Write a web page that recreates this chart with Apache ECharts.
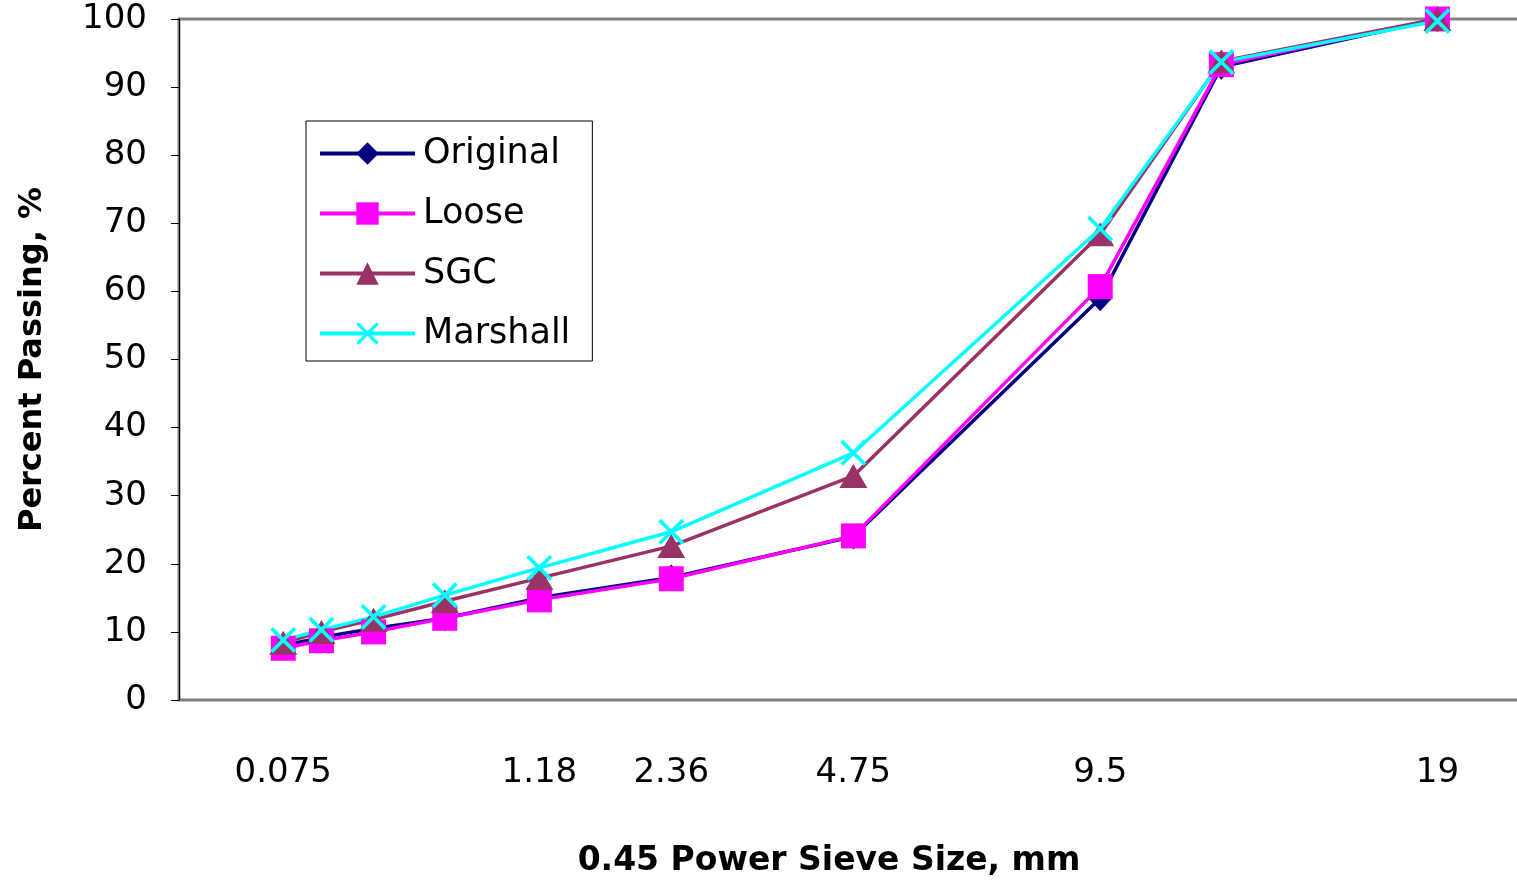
<!DOCTYPE html>
<html>
<head>
<meta charset="utf-8">
<script src="https://cdn.jsdelivr.net/npm/echarts@6/dist/echarts.min.js"></script>
<style>
html,body{margin:0;padding:0;background:#fff;}
#chart{width:1517px;height:880px;}
</style>
</head>
<body>
<div id="chart"></div>
<script>
// Sieve sizes (mm) and percent passing
var sieveSizes = [0.075, 0.15, 0.3, 0.6, 1.18, 2.36, 4.75, 9.5, 12.5, 19];
var labelSizes = [0.075, 1.18, 2.36, 4.75, 9.5, 19];
var original = [8.0, 9.2, 10.5, 12.0, 15.0, 18.0, 24.0, 59.0, 93.0, 100];
var loose    = [7.6, 8.7, 10.0, 12.0, 14.7, 17.8, 24.1, 60.7, 93.3, 100];
var sgc      = [8.4, 10.0, 11.8, 14.5, 17.9, 22.6, 32.9, 68.4, 93.8, 100];
var marshall = [8.8, 10.3, 12.2, 15.4, 19.4, 24.7, 36.3, 69.2, 93.7, 99.7];
var yTicks = [0, 10, 20, 30, 40, 50, 60, 70, 80, 90, 100];

var P = 0.45;
function px(s){ return Math.pow(s, P); }
function pairs(vals){ return sieveSizes.map(function(s,i){ return [px(s), vals[i]]; }); }
var labelPos = labelSizes.map(px);

var FONT = '"DejaVu Sans", "Liberation Sans", Arial, sans-serif';
var xShape = 'path://M0,1 L1,0 L5,4 L9,0 L10,1 L6,5 L10,9 L9,10 L5,6 L1,10 L0,9 L4,5 Z';

function mk(name, data, color, symbol, size){
  return {
    name: name, type: 'line', data: pairs(data),
    symbol: symbol, symbolSize: size,
    lineStyle: {color: color, width: 3.5},
    itemStyle: {color: color},
    emphasis: {disabled: true}
  };
}

var chart = echarts.init(document.getElementById('chart'));
chart.setOption({
  animation: false,
  backgroundColor: '#fff',
  textStyle: {fontFamily: FONT},
  grid: {left: 179, right: -4, top: 19, bottom: 180, outerBoundsMode: 'none', containLabel: false,
         show: true, borderColor: '#808080', borderWidth: 3, backgroundColor: 'transparent'},
  legend: {
    orient: 'vertical', left: 306, top: 121,
    padding: [15, 22, 10, 12],
    itemWidth: 95, itemHeight: 28, itemGap: 25,
    backgroundColor: '#fff', borderColor: '#000', borderWidth: 1,
    lineStyle: {width: 4},
    textStyle: {fontSize: 35, color: '#000', fontFamily: FONT, padding: [0,0,0,3]},
    data: ['Original', 'Loose', 'SGC', 'Marshall']
  },
  xAxis: {
    type: 'value', min: 0, max: 4.012,
    name: '0.45 Power Sieve Size, mm', nameLocation: 'middle', nameGap: 145,
    nameTextStyle: {fontSize: 33, fontWeight: 'bold', color: '#000', fontFamily: FONT, padding: [0, 42, 0, 0]},
    axisLine: {show: false}, axisTick: {show: false}, splitLine: {show: false},
    axisLabel: {
      customValues: labelPos, margin: 56, fontSize: 34, color: '#000', fontFamily: FONT,
      formatter: function(v){
        for (var i = 0; i < labelPos.length; i++) if (Math.abs(labelPos[i]-v) < 1e-6) return String(labelSizes[i]);
        return '';
      }
    }
  },
  yAxis: {
    type: 'value', min: 0, max: 100, interval: 10,
    name: 'Percent Passing, %', nameLocation: 'middle', nameGap: 130,
    nameTextStyle: {fontSize: 32, fontWeight: 'bold', color: '#000', fontFamily: FONT},
    axisLine: {show: true, lineStyle: {color: '#000', width: 1}},
    axisTick: {show: true, length: 8, lineStyle: {color: '#000', width: 1}},
    splitLine: {show: false},
    axisLabel: {margin: 32, fontSize: 34, color: '#000', fontFamily: FONT, padding: [6, 0, 0, 0],
      formatter: function(v){ return yTicks.indexOf(v) >= 0 ? String(v) : ''; }}
  },
  series: [
    mk('Original', original, '#000080', 'diamond', [24, 26]),
    mk('Loose', loose, '#FF00FF', 'rect', 25),
    mk('SGC', sgc, '#993366', 'triangle', [28, 24]),
    mk('Marshall', marshall, '#00FFFF', xShape, 26)
  ]
});
</script>
</body>
</html>
